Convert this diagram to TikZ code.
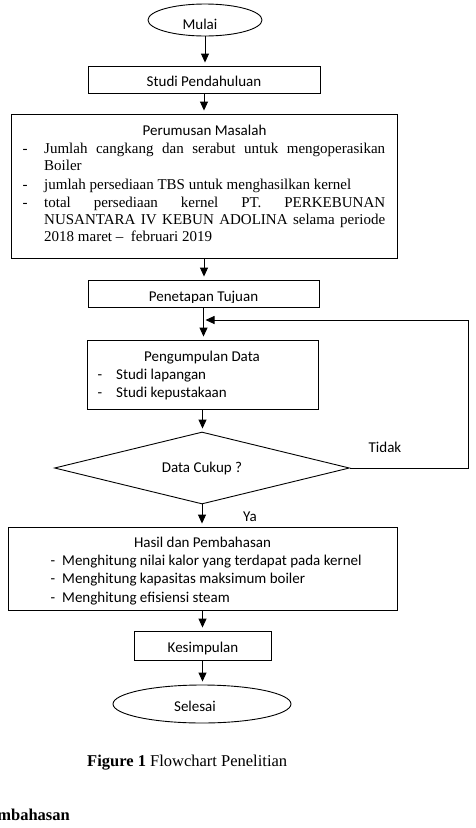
\documentclass[tikz,border=0pt]{standalone}
\usepackage{fontspec}
\setmainfont{Liberation Serif}
\newfontfamily\calfont{Carlito}
\usetikzlibrary{shapes.geometric,arrows.meta}
\begin{document}
\begin{tikzpicture}[x=1pt,y=-1pt,
  line join=miter,
  box/.style={draw, rectangle, inner sep=0pt, line width=0.9pt},
  oval/.style={draw, ellipse, inner sep=0pt, line width=0.9pt},
  decision/.style={draw, diamond, inner sep=0pt, line width=0.9pt},
  lbl/.style={inner sep=0pt, anchor=base, font=\calfont\fontsize{15}{18}\selectfont},
  lblw/.style={lbl, anchor=base west},
  tnr/.style={inner sep=0pt, anchor=base, font=\fontsize{15}{17.3}\selectfont},
  tnrw/.style={tnr, anchor=base west},
  flow/.style={-{Triangle[width=8pt,length=9pt]}, line width=0.9pt, shorten >=3pt},
]
\useasboundingbox (0,0) rectangle (476,828);

% Mulai
\node[oval, minimum width=114pt, minimum height=32pt] (mulai) at (205,20) {};
\node[lbl] (tmulai) at (200,29) {Mulai};

% Studi Pendahuluan
\node[box, minimum width=232pt, minimum height=27pt] (studi) at (204,79.5) {};
\node[lbl] (tstudi) at (204,86) {Studi Pendahuluan};

% Perumusan Masalah
\node[box, minimum width=386pt, minimum height=144pt] (rumus) at (204,186) {};
\node[lbl] (trumus) at (204.5,135) {Perumusan Masalah};
\node[tnr] (dr1) at (25,153) {-};
\node[tnr] (dr2) at (25,189) {-};
\node[tnr] (dr3) at (25,207) {-};
\node[tnrw] (r1) at (44,153) {\parbox[t]{341pt}{\fontsize{15}{17.3}\selectfont\hyphenpenalty=10000\exhyphenpenalty=10000
  Jumlah cangkang dan serabut untuk mengoperasikan\linebreak Boiler}};
\node[tnrw] (r2) at (44,189) {jumlah persediaan TBS untuk menghasilkan kernel};
\node[tnrw] (r3) at (44,207) {\parbox[t]{341pt}{\fontsize{15}{17.3}\selectfont\hyphenpenalty=10000\exhyphenpenalty=10000
  total persediaan kernel PT. PERKEBUNAN\linebreak NUSANTARA IV KEBUN ADOLINA selama periode\linebreak 2018 maret –\ \ februari 2019}};

% Penetapan Tujuan
\node[box, minimum width=231pt, minimum height=27pt] (tujuan) at (203.5,293.5) {};
\begin{scope}
  \clip (88,280) rectangle (319,302.5);
  \node[lbl] (ttujuan) at (203.5,301) {Penetapan Tujuan};
\end{scope}

% Pengumpulan Data
\node[box, minimum width=231pt, minimum height=69pt] (kumpul) at (202.5,374.5) {};
\node[lbl] (tkumpul) at (202,361) {Pengumpulan Data};
\node[lbl] (dk1) at (100,379) {-};
\node[lblw] (k1) at (116,379) {Studi lapangan};
\node[lbl] (dk2) at (100,397) {-};
\node[lblw] (k2) at (116,397) {Studi kepustakaan};

% Decision
\node[decision, minimum width=295pt, minimum height=72pt] (cek) at (202,468) {};
\node[lbl] (tcek) at (202,472) {Data Cukup ?};
\node[lbl] (tidak) at (385,452) {Tidak};
\node[lbl] (ya) at (250,521) {Ya};

% Hasil dan Pembahasan
\node[box, minimum width=389pt, minimum height=83pt] (hasil) at (202.5,568.5) {};
\node[lbl] (thasil) at (202.5,547) {Hasil dan Pembahasan};
\node[lbl] (dh1) at (53,565) {-};
\node[lblw] (h1) at (62,565) {Menghitung nilai kalor yang terdapat pada kernel};
\node[lbl] (dh2) at (53,583) {-};
\node[lblw] (h2) at (62,583) {Menghitung kapasitas maksimum boiler};
\node[lbl] (dh3) at (53,602) {-};
\node[lblw] (h3) at (62,602) {Menghitung efisiensi steam};

% Kesimpulan
\node[box, minimum width=137pt, minimum height=29pt] (kes) at (202.5,645.5) {};
\node[lbl] (tkes) at (203,652) {Kesimpulan};

% Selesai
\node[oval, minimum width=178pt, minimum height=38pt] (selesai) at (202,704) {};
\node[lbl] (tselesai) at (195,711) {Selesai};

% Caption and heading
\node[inner sep=0pt, anchor=base west, font=\fontsize{16.5}{20}\selectfont] (cap) at (87,766) {\textbf{Figure 1} Flowchart Penelitian};
\node[inner sep=0pt, anchor=base east, font=\bfseries\fontsize{16.5}{20}\selectfont] (sec) at (70,820) {Pembahasan};

% Connectors
\draw[flow] (mulai.south) -- (mulai.south |- studi.north);
\draw[flow] (studi.south) -- (studi.south |- rumus.north);
\draw[flow] (rumus.south) -- (rumus.south |- tujuan.north);
\draw[flow] (tujuan.south) -- (tujuan.south |- kumpul.north);
\draw[flow] (kumpul.south) -- (kumpul.south |- cek.north);
\draw[flow] (cek.south) -- (cek.south |- hasil.north);
\draw[flow] (hasil.south) -- (hasil.south |- kes.north);
\draw[flow] (kes.south) -- (kes.south |- selesai.north);
\coordinate (loopT) at (468,320);
\draw[flow, shorten >=2pt] (cek.east) -| (loopT) -- (tujuan.south |- loopT);
\end{tikzpicture}
\end{document}
